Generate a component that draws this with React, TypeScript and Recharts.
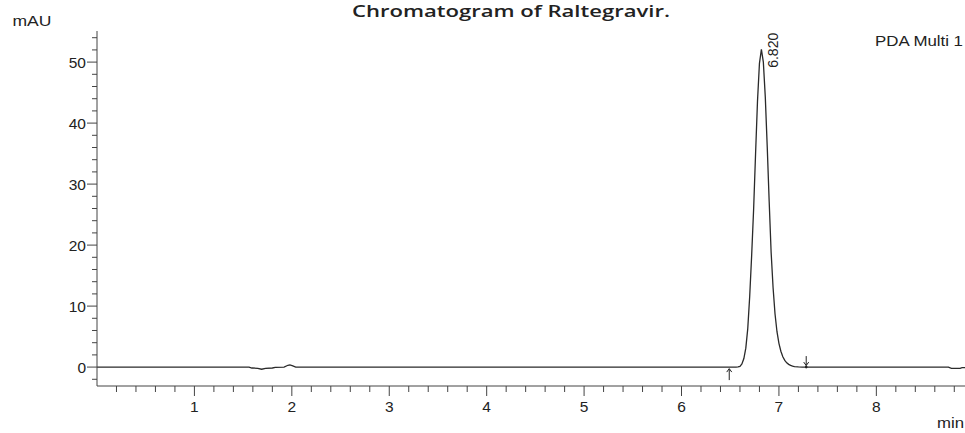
import { LineChart, Line, XAxis, YAxis, ReferenceDot } from 'recharts';

// retention time (min) and detector response (mAU)
const TIME_MIN = [
  0, 1.56, 1.59, 1.65, 1.69, 1.73, 1.8, 1.83, 1.92, 1.96, 1.98, 2.01, 2.04,
  6.56, 6.58, 6.6, 6.62, 6.64, 6.66, 6.68, 6.7, 6.72, 6.74, 6.76, 6.78, 6.8,
  6.82, 6.84, 6.86, 6.88, 6.9, 6.92, 6.94, 6.96, 6.98, 7.0, 7.02, 7.04, 7.06,
  7.08, 7.1, 7.12, 7.14, 7.16, 7.2, 7.24, 8.74, 8.77, 8.86, 8.88, 8.91,
];
const SIGNAL_MAU = [
  0, 0, -0.15, -0.2, -0.35, -0.2, -0.15, -0.05, 0, 0.3, 0.35, 0.2, 0,
  0, 0.05, 0.12, 0.5, 1.4, 3.1, 6.3, 11.6, 18.3, 25.8, 34.9, 43.6, 49.8,
  52.1, 50.0, 44.3, 36.1, 27.1, 18.8, 13.0, 8.7, 5.8, 3.9, 2.6, 1.7, 1.1,
  0.7, 0.45, 0.28, 0.15, 0.08, 0.03, 0, 0, -0.2, -0.2, -0.1, -0.1,
];

const X_MAJOR = [1, 2, 3, 4, 5, 6, 7, 8];
const X_TICKS = [
  0.2, 0.4, 0.6, 0.8, 1, 1.2, 1.4, 1.6, 1.8, 2, 2.2, 2.4, 2.6, 2.8, 3, 3.2, 3.4,
  3.6, 3.8, 4, 4.2, 4.4, 4.6, 4.8, 5, 5.2, 5.4, 5.6, 5.8, 6, 6.2, 6.4, 6.6, 6.8,
  7, 7.2, 7.4, 7.6, 7.8, 8, 8.2, 8.4, 8.6, 8.8,
];
const Y_MAJOR = [0, 10, 20, 30, 40, 50];
const Y_TICKS = [
  -2, 0, 2, 4, 6, 8, 10, 12, 14, 16, 18, 20, 22, 24, 26, 28, 30, 32, 34, 36, 38,
  40, 42, 44, 46, 48, 50, 52, 54,
];

const PEAK_TIME = 6.82;
const PEAK_HEIGHT = 52.1;
const PEAK_LABEL = '6.820';
const PEAK_START = 6.49;
const PEAK_END = 7.28;

const X_DOMAIN = [0, 8.91];
const Y_DOMAIN = [-3.1, 55.1];

const W = 965;
const H = 433;
const AXIS = '#444';
const TRACE = '#2a2a2a';
const FONT = '"Liberation Sans", Arial, sans-serif';

const data = TIME_MIN.map((t, i) => ({ t, mau: SIGNAL_MAU[i] }));

function XTick({ x, y, payload }: any) {
  const major = X_MAJOR.includes(payload.value);
  return (
    <g>
      <line x1={x} x2={x} y1={y} y2={y + (major ? 10 : 6)} stroke={AXIS} />
      {major && (
        <text x={x} y={y + 25.5} textAnchor="middle" fontSize={15.5} fontFamily={FONT} fill="#222">
          {payload.value}
        </text>
      )}
    </g>
  );
}

function YTick({ x, y, payload }: any) {
  const major = Y_MAJOR.includes(payload.value);
  return (
    <g>
      <line x1={x - (major ? 10 : 5)} x2={x} y1={y} y2={y} stroke={AXIS} />
      {major && (
        <text x={x - 11} y={y} dy="0.36em" textAnchor="end" fontSize={15.5} fontFamily={FONT} fill="#222">
          {payload.value}
        </text>
      )}
    </g>
  );
}

function UpArrow({ cx, cy }: any) {
  return (
    <g stroke="#222" fill="none" strokeWidth={1}>
      <line x1={cx} x2={cx} y1={cy + 2} y2={cy + 13} />
      <polyline points={`${cx - 2.5},${cy + 5} ${cx},${cy + 1.5} ${cx + 2.5},${cy + 5}`} />
    </g>
  );
}

function DownArrow({ cx, cy }: any) {
  return (
    <g stroke="#222" fill="none" strokeWidth={1}>
      <line x1={cx} x2={cx} y1={cy - 11} y2={cy - 1.5} />
      <polyline points={`${cx - 2.5},${cy - 5} ${cx},${cy - 1.5} ${cx + 2.5},${cy - 5}`} />
      <circle cx={cx} cy={cy} r={1.3} fill="#222" stroke="none" />
    </g>
  );
}

function PeakLabel({ cx, cy }: any) {
  return (
    <text
      x={0}
      y={0}
      transform={`translate(${cx + 12},${cy + 1}) rotate(-90)`}
      textAnchor="middle"
      dominantBaseline="central"
      fontSize={14}
      fontFamily={FONT}
      fill="#222"
    >
      {PEAK_LABEL}
    </text>
  );
}

export default function App() {
  return (
    <div style={{ position: 'absolute', left: 0, top: 0, width: W, height: H, background: '#fff' }}>
      <LineChart width={W} height={H} data={data} margin={{ top: 31, right: 0, bottom: 0, left: 0 }}>
        <XAxis
          dataKey="t"
          type="number"
          domain={X_DOMAIN}
          allowDataOverflow
          ticks={X_TICKS}
          interval={0}
          height={47}
          tickSize={0}
          tickMargin={0}
          tickLine={false}
          axisLine={{ stroke: AXIS }}
          tick={<XTick />}
        />
        <XAxis
          xAxisId="top"
          orientation="top"
          dataKey="t"
          type="number"
          domain={X_DOMAIN}
          allowDataOverflow
          height={0}
          tick={false}
          tickLine={false}
          axisLine={{ stroke: AXIS }}
        />
        <YAxis
          type="number"
          domain={Y_DOMAIN}
          allowDataOverflow
          ticks={Y_TICKS}
          interval={0}
          width={97}
          tickSize={0}
          tickMargin={0}
          tickLine={false}
          axisLine={{ stroke: AXIS }}
          tick={<YTick />}
        />
        <Line
          dataKey="mau"
          type="linear"
          stroke={TRACE}
          strokeWidth={1.3}
          dot={false}
          isAnimationActive={false}
        />
        <ReferenceDot x={PEAK_START} y={0} shape={<UpArrow />} />
        <ReferenceDot x={PEAK_END} y={0} shape={<DownArrow />} />
        <ReferenceDot x={PEAK_TIME} y={PEAK_HEIGHT} shape={<PeakLabel />} />
      </LineChart>
      <svg
        width={W}
        height={H}
        style={{ position: 'absolute', left: 0, top: 0, pointerEvents: 'none' }}
      >
        <text
          x={352}
          y={17}
          textLength={318}
          lengthAdjust="spacingAndGlyphs"
          fontSize={17}
          fontWeight={600}
          fontFamily='"Open Sans", sans-serif'
          fill="#222"
        >
          Chromatogram of Raltegravir.
        </text>
        <text x={12.5} y={25.5} textLength={39} lengthAdjust="spacingAndGlyphs" fontSize={15} fontFamily={FONT} fill="#222">
          mAU
        </text>
        <text x={875} y={46} textLength={88} lengthAdjust="spacingAndGlyphs" fontSize={15.5} fontFamily={FONT} fill="#222">
          PDA Multi 1
        </text>
        <text x={937} y={428} textLength={27} lengthAdjust="spacingAndGlyphs" fontSize={15} fontFamily={FONT} fill="#222">
          min
        </text>
      </svg>
    </div>
  );
}
